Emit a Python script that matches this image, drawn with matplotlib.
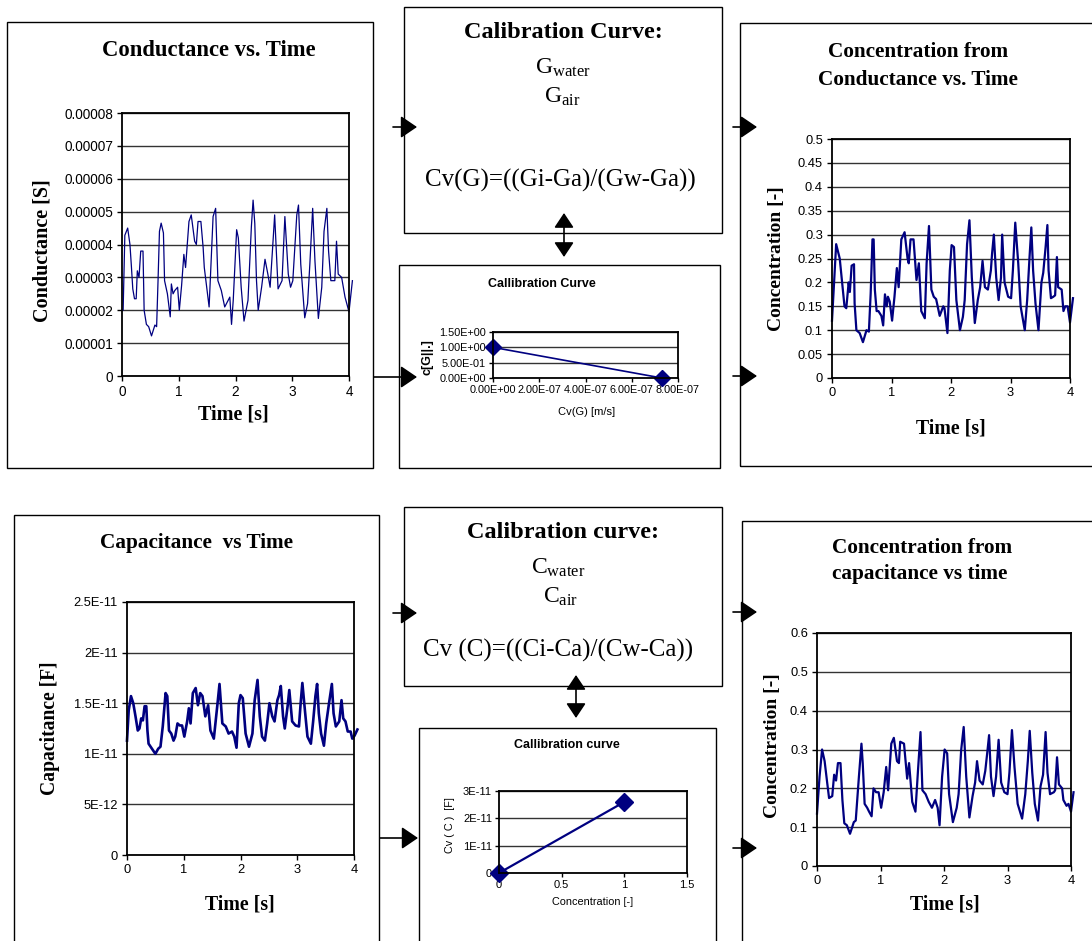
import matplotlib
matplotlib.use('Agg')
import matplotlib.pyplot as plt
from matplotlib.patches import Rectangle, FancyArrowPatch
from matplotlib.ticker import FuncFormatter
import numpy as np

plt.rcParams['font.family'] = 'Liberation Sans'
plt.rcParams['mathtext.fontset'] = 'custom'
plt.rcParams['mathtext.rm'] = 'Liberation Serif'
plt.rcParams['mathtext.it'] = 'Liberation Serif:italic'
plt.rcParams['mathtext.bf'] = 'Liberation Serif:bold'

W, H = 1092, 941
SERIF = 'Liberation Serif'
NAVY = '#000080'

# conductance vs time, values in 1e-5 S
t_cond = [0, 0.02, 0.05, 0.10, 0.14, 0.165, 0.19, 0.22, 0.25, 0.27,
          0.30, 0.33, 0.37, 0.39, 0.43, 0.47, 0.52, 0.58, 0.61, 0.635,
          0.66, 0.69, 0.73, 0.75, 0.80, 0.85, 0.87, 0.90, 0.93, 0.98,
          1.01, 1.05, 1.09, 1.12, 1.18, 1.22, 1.28, 1.31, 1.34, 1.39,
          1.43, 1.45, 1.535, 1.605, 1.65, 1.69, 1.75, 1.81, 1.90, 1.93,
          1.96, 2.02, 2.05, 2.10, 2.15, 2.22, 2.28, 2.31, 2.34, 2.37,
          2.40, 2.46, 2.52, 2.57, 2.61, 2.665, 2.69, 2.75, 2.82, 2.87,
          2.93, 2.97, 3.01, 3.08, 3.11, 3.15, 3.22, 3.27, 3.31, 3.36,
          3.40, 3.46, 3.52, 3.56, 3.61, 3.64, 3.68, 3.75, 3.78, 3.81,
          3.87, 3.93, 4.00, 4.06]
g_cond = [2.0, 2.0, 4.28, 4.5, 4.0, 3.35, 2.65, 2.35, 2.35, 3.2,
          3.0, 3.8, 3.8, 2.0, 1.57, 1.5, 1.22, 1.55, 1.5, 2.9,
          4.4, 4.65, 4.35, 2.9, 2.5, 1.8, 2.8, 2.5, 2.6, 2.7,
          2.0, 2.75, 3.7, 3.3, 4.7, 4.9, 4.1, 4.0, 4.7, 4.7,
          3.9, 3.3, 2.1, 4.85, 5.1, 2.9, 2.6, 2.1, 2.4, 1.57,
          2.3, 4.45, 4.2, 2.7, 1.67, 2.3, 4.55, 5.35, 4.64, 2.9,
          2.0, 2.7, 3.55, 3.1, 2.7, 4.2, 4.9, 2.65, 2.9, 4.85,
          3.1, 2.7, 2.9, 4.9, 5.2, 3.4, 1.77, 2.2, 3.4, 5.1,
          3.5, 1.75, 2.7, 4.4, 5.1, 3.8, 2.9, 2.9, 4.1, 3.1,
          3.0, 2.4, 1.95, 2.9]

# concentration from conductance
t_cg = [0, 0.07, 0.13, 0.21, 0.24, 0.28, 0.30, 0.33, 0.37, 0.38,
        0.41, 0.465, 0.52, 0.58, 0.62, 0.65, 0.68, 0.70, 0.72, 0.75,
        0.78, 0.83, 0.86, 0.89, 0.92, 0.94, 0.97, 1.01, 1.05, 1.09,
        1.12, 1.165, 1.22, 1.27, 1.29, 1.32, 1.37, 1.42, 1.46, 1.50,
        1.56, 1.59, 1.63, 1.67, 1.71, 1.75, 1.81, 1.87, 1.89, 1.94,
        1.98, 2.01, 2.05, 2.09, 2.15, 2.20, 2.23, 2.27, 2.31, 2.35,
        2.40, 2.45, 2.49, 2.53, 2.57, 2.62, 2.67, 2.69, 2.72, 2.76,
        2.80, 2.84, 2.86, 2.90, 2.96, 3.01, 3.04, 3.08, 3.13, 3.17,
        3.24, 3.28, 3.32, 3.35, 3.38, 3.42, 3.47, 3.52, 3.55, 3.59,
        3.62, 3.64, 3.68, 3.72, 3.75, 3.78, 3.80, 3.86, 3.89, 3.92,
        3.96, 4.00, 4.05]
c_cg = [0.12, 0.28, 0.25, 0.15, 0.146, 0.20, 0.18, 0.235, 0.238, 0.156,
        0.10, 0.094, 0.075, 0.10, 0.097, 0.177, 0.29, 0.29, 0.185, 0.14,
        0.14, 0.13, 0.11, 0.175, 0.15, 0.17, 0.16, 0.12, 0.17, 0.23,
        0.19, 0.29, 0.305, 0.25, 0.24, 0.29, 0.29, 0.205, 0.24, 0.14,
        0.125, 0.24, 0.318, 0.185, 0.17, 0.165, 0.13, 0.15, 0.146, 0.094,
        0.225, 0.278, 0.274, 0.163, 0.10, 0.128, 0.163, 0.28, 0.33, 0.21,
        0.115, 0.163, 0.19, 0.245, 0.19, 0.185, 0.225, 0.26, 0.30, 0.21,
        0.163, 0.21, 0.30, 0.20, 0.17, 0.167, 0.225, 0.325, 0.24, 0.15,
        0.10, 0.163, 0.253, 0.315, 0.225, 0.156, 0.10, 0.20, 0.22, 0.274,
        0.32, 0.225, 0.167, 0.17, 0.173, 0.253, 0.19, 0.185, 0.14, 0.15,
        0.15, 0.116, 0.167]

# capacitance vs time, values in 1e-11 F
t_cap = [0, 0.03, 0.07, 0.11, 0.15, 0.19, 0.22, 0.25, 0.28, 0.31,
         0.34, 0.36, 0.38, 0.44, 0.50, 0.55, 0.59, 0.63, 0.68, 0.71,
         0.74, 0.78, 0.82, 0.85, 0.89, 0.93, 0.97, 1.01, 1.06, 1.09,
         1.12, 1.16, 1.21, 1.25, 1.29, 1.33, 1.38, 1.43, 1.47, 1.53,
         1.59, 1.63, 1.68, 1.74, 1.79, 1.85, 1.89, 1.93, 1.97, 2.00,
         2.04, 2.09, 2.15, 2.21, 2.25, 2.30, 2.34, 2.38, 2.43, 2.47,
         2.51, 2.56, 2.60, 2.65, 2.68, 2.71, 2.75, 2.78, 2.83, 2.86,
         2.91, 2.97, 3.03, 3.06, 3.09, 3.14, 3.18, 3.24, 3.28, 3.32,
         3.35, 3.38, 3.42, 3.47, 3.51, 3.56, 3.61, 3.64, 3.68, 3.74,
         3.78, 3.81, 3.85, 3.89, 3.94, 3.97, 4.01, 4.06]
c_cap = [1.13, 1.43, 1.57, 1.5, 1.37, 1.23, 1.25, 1.35, 1.33, 1.47,
         1.47, 1.23, 1.1, 1.05, 1.0, 1.05, 1.07, 1.27, 1.6, 1.57,
         1.23, 1.2, 1.13, 1.17, 1.3, 1.28, 1.28, 1.17, 1.32, 1.45,
         1.3, 1.6, 1.65, 1.48, 1.6, 1.57, 1.37, 1.48, 1.23, 1.15,
         1.47, 1.69, 1.3, 1.27, 1.2, 1.22, 1.17, 1.06, 1.5, 1.58,
         1.55, 1.2, 1.07, 1.2, 1.53, 1.73, 1.37, 1.17, 1.13, 1.3,
         1.5, 1.37, 1.32, 1.53, 1.58, 1.67, 1.37, 1.25, 1.47, 1.63,
         1.32, 1.28, 1.27, 1.5, 1.7, 1.4, 1.17, 1.1, 1.32, 1.57,
         1.69, 1.4, 1.2, 1.08, 1.3, 1.5, 1.69, 1.4, 1.27, 1.32,
         1.53, 1.35, 1.32, 1.22, 1.22, 1.15, 1.18, 1.24]

# concentration from capacitance
t_cc = [0, 0.04, 0.08, 0.12, 0.16, 0.19, 0.24, 0.27, 0.30, 0.33,
        0.37, 0.40, 0.43, 0.47, 0.52, 0.58, 0.61, 0.66, 0.70, 0.72,
        0.75, 0.79, 0.82, 0.86, 0.89, 0.93, 0.97, 1.01, 1.05, 1.09,
        1.12, 1.17, 1.21, 1.26, 1.29, 1.31, 1.37, 1.42, 1.45, 1.50,
        1.55, 1.59, 1.63, 1.66, 1.71, 1.76, 1.81, 1.86, 1.90, 1.93,
        1.97, 2.01, 2.05, 2.08, 2.14, 2.20, 2.23, 2.27, 2.31, 2.35,
        2.40, 2.45, 2.49, 2.52, 2.56, 2.61, 2.65, 2.68, 2.71, 2.74,
        2.78, 2.82, 2.86, 2.90, 2.95, 3.00, 3.03, 3.07, 3.11, 3.16,
        3.23, 3.28, 3.32, 3.35, 3.39, 3.43, 3.48, 3.52, 3.56, 3.60,
        3.63, 3.67, 3.73, 3.75, 3.78, 3.81, 3.86, 3.88, 3.93, 3.96,
        4.00, 4.04]
c_cc = [0.135, 0.23, 0.30, 0.27, 0.215, 0.175, 0.18, 0.235, 0.22, 0.265,
        0.265, 0.17, 0.11, 0.105, 0.083, 0.113, 0.117, 0.23, 0.315, 0.265,
        0.16, 0.15, 0.14, 0.128, 0.20, 0.19, 0.19, 0.15, 0.19, 0.255,
        0.195, 0.315, 0.33, 0.27, 0.265, 0.32, 0.315, 0.225, 0.265, 0.165,
        0.14, 0.245, 0.345, 0.195, 0.185, 0.165, 0.15, 0.17, 0.15, 0.105,
        0.23, 0.30, 0.29, 0.185, 0.113, 0.15, 0.185, 0.298, 0.358, 0.23,
        0.125, 0.18, 0.215, 0.27, 0.22, 0.21, 0.245, 0.29, 0.337, 0.23,
        0.18, 0.23, 0.325, 0.215, 0.19, 0.185, 0.24, 0.35, 0.255, 0.16,
        0.122, 0.185, 0.27, 0.348, 0.24, 0.16, 0.117, 0.205, 0.235, 0.345,
        0.24, 0.185, 0.19, 0.195, 0.28, 0.21, 0.20, 0.17, 0.155, 0.16,
        0.14, 0.19]

# calibration points
calG_x = [0, 7.3e-7]
calG_y = [1.0, 0.0]
calC_x = [0, 1]
calC_y = [0, 2.6e-11]


def fx(x):
    return x / W


def fy(y):
    return 1 - y / H


def add_ax(l, t, r, b):
    return fig.add_axes([l / W, 1 - b / H, (r - l) / W, (b - t) / H])


def box(l, t, r, b):
    fig.patches.append(Rectangle((fx(l), fy(b)), (r - l) / W, (b - t) / H,
                                 transform=fig.transFigure, fill=False,
                                 ec='black', lw=1.0))


def arrow(x1, y1, x2, y2, style='-|>', hl=0.5, hw=0.34):
    fig.patches.append(FancyArrowPatch((fx(x1), fy(y1)), (fx(x2), fy(y2)),
                                       transform=fig.transFigure,
                                       arrowstyle=f'{style},head_length={hl},head_width={hw}',
                                       mutation_scale=20, color='black', lw=1.2,
                                       shrinkA=0, shrinkB=0))


def text(x, y, s, size, bold=False, serif=True, **kw):
    fig.text(fx(x), fy(y), s, ha='center', va='center', fontsize=size,
             fontweight='bold' if bold else 'normal',
             family=SERIF if serif else 'Liberation Sans', **kw)


def excel_sci(v, p=None):
    if abs(v) < 1e-30:
        return '0'
    s = f'{v:.1E}'
    m, e = s.split('E')
    if m.endswith('.0'):
        m = m[:-2]
    return m + 'E' + str(int(e))


def style_ax(ax, size=9):
    for sp in ax.spines.values():
        sp.set_linewidth(1.3)
        sp.set_color('black')
    ax.tick_params(direction='out', length=3.5, width=1, labelsize=size, pad=3)
    ax.yaxis.grid(True, color='#333333', lw=1)
    ax.set_axisbelow(True)


fig = plt.figure(figsize=(W / 100, H / 100), dpi=100)

# ---- boxes
box(7, 22, 373, 468)
box(404, 7, 722, 233)
box(399, 265, 720, 468)
box(740, 23, 1110, 466)
box(14, 515, 379, 960)
box(404, 507, 722, 686)
box(419, 728, 716, 960)
box(742, 521, 1110, 960)

# ---- conductance vs time
ax1 = add_ax(122, 113, 349, 376)
ax1.plot(t_cond, np.array(g_cond) * 1e-5, color=NAVY, lw=0.9, clip_on=False)
ax1.set_xlim(0, 4)
ax1.set_ylim(0, 8e-5)
ax1.set_xticks(range(5))
ax1.set_yticks(np.arange(0, 8.5e-5, 1e-5))
ax1.yaxis.set_major_formatter(FuncFormatter(lambda v, p: '0' if v == 0 else f'{v:.5f}'))
style_ax(ax1, 9.8)
text(209, 50, 'Conductance vs. Time', 16.3, bold=True)
text(43, 251, 'Conductance [S]', 14.5, bold=True, rotation=90)
text(233, 415, 'Time [s]', 14.5, bold=True)

# ---- calibration curve box (conductance)
text(563, 33, 'Calibration Curve:', 17.5, bold=True)
text(563, 68, r'G$_{\mathrm{water}}$', 17)
text(562, 97, r'G$_{\mathrm{air}}$', 17)
text(560, 180, 'Cv(G)=((Gi-Ga)/(Gw-Ga))', 18)

ax2 = add_ax(493, 332, 678, 378)
ax2.plot(calG_x, calG_y, color=NAVY, lw=1.2, marker='D', ms=8, clip_on=False)
ax2.set_xlim(0, 8e-7)
ax2.set_ylim(0, 1.5)
ax2.set_xticks(np.arange(0, 8.5e-7, 2e-7))
ax2.set_yticks([0, 0.5, 1.0, 1.5])
ax2.xaxis.set_major_formatter(FuncFormatter(lambda v, p: f'{v:.2E}'))
ax2.yaxis.set_major_formatter(FuncFormatter(lambda v, p: f'{v:.2E}'))
style_ax(ax2, 7.8)
ax2.tick_params(length=3, pad=2)
text(542, 284, 'Callibration Curve', 9, bold=True, serif=False)
text(587, 412, 'Cv(G) [m/s]', 8, serif=False)
text(427, 357, 'c[G||.]', 9, bold=True, serif=False, rotation=90)

# ---- concentration from conductance
ax3 = add_ax(832, 139, 1070, 378)
ax3.plot(t_cg, c_cg, color=NAVY, lw=1.6, clip_on=False)
ax3.set_xlim(0, 4)
ax3.set_ylim(0, 0.5)
ax3.set_xticks(range(5))
ax3.set_yticks(np.arange(0, 0.51, 0.05))
ax3.yaxis.set_major_formatter(FuncFormatter(lambda v, p: f'{v:g}'))
style_ax(ax3, 9.3)
text(918, 52, 'Concentration from', 15.3, bold=True)
text(918, 80, 'Conductance vs. Time', 15.3, bold=True)
text(777, 259, 'Concentration [-]', 14, bold=True, rotation=90)
text(951, 428, 'Time [s]', 14.3, bold=True)

# ---- capacitance vs time
ax4 = add_ax(127, 602, 354, 855)
ax4.plot(t_cap, np.array(c_cap) * 1e-11, color=NAVY, lw=1.9, clip_on=False)
ax4.set_xlim(0, 4)
ax4.set_ylim(0, 2.5e-11)
ax4.set_xticks(range(5))
ax4.set_yticks(np.arange(0, 2.6e-11, 5e-12))
ax4.yaxis.set_major_formatter(FuncFormatter(excel_sci))
style_ax(ax4, 9.3)
text(197, 543, 'Capacitance  vs Time', 15.3, bold=True)
text(50, 728, 'Capacitance [F]', 14.1, bold=True, rotation=90)
text(240, 905, 'Time [s]', 14.3, bold=True)

# ---- calibration curve box (capacitance)
text(563, 533, 'Calibration curve:', 17.5, bold=True)
text(558, 568, r'C$_{\mathrm{water}}$', 17)
text(561, 597, r'C$_{\mathrm{air}}$', 17)
text(558, 650, 'Cv (C)=((Ci-Ca)/(Cw-Ca))', 18)

ax5 = add_ax(499, 791, 687, 873)
ax5.plot(calC_x, calC_y, color=NAVY, lw=1.6, marker='D', ms=9, clip_on=False)
ax5.set_xlim(0, 1.5)
ax5.set_ylim(0, 3e-11)
ax5.set_xticks([0, 0.5, 1, 1.5])
ax5.set_yticks([0, 1e-11, 2e-11, 3e-11])
ax5.xaxis.set_major_formatter(FuncFormatter(lambda v, p: f'{v:g}'))
ax5.yaxis.set_major_formatter(FuncFormatter(excel_sci))
style_ax(ax5, 8)
ax5.tick_params(length=3, pad=2)
text(567, 745, 'Callibration curve', 9, bold=True, serif=False)
text(593, 902, 'Concentration [-]', 7.8, serif=False)
text(450, 825, 'Cv ( C )  [F]', 7.8, serif=False, rotation=90)

# ---- concentration from capacitance
ax6 = add_ax(817, 633, 1071, 866)
ax6.plot(t_cc, c_cc, color=NAVY, lw=1.6, clip_on=False)
ax6.set_xlim(0, 4)
ax6.set_ylim(0, 0.6)
ax6.set_xticks(range(5))
ax6.set_yticks(np.arange(0, 0.61, 0.1))
ax6.yaxis.set_major_formatter(FuncFormatter(lambda v, p: f'{v:g}'))
style_ax(ax6, 9.3)
text(922, 548, 'Concentration from', 15.3, bold=True)
text(920, 574, 'capacitance vs time', 15.3, bold=True)
text(773, 746, 'Concentration [-]', 14, bold=True, rotation=90)
text(945, 905, 'Time [s]', 14.3, bold=True)

# ---- arrows
arrow(393, 127, 417, 127)
arrow(733, 127, 757, 127)
arrow(374, 377, 417, 377)
arrow(733, 376, 757, 376)
arrow(393, 613, 417, 613)
arrow(733, 612, 757, 612)
arrow(380, 838, 418, 838)
arrow(733, 848, 757, 848)
arrow(564, 213, 564, 257, '<|-|>', 0.45, 0.3)
arrow(576, 675, 576, 718, '<|-|>', 0.45, 0.3)

fig.savefig('out.png', dpi=100)
